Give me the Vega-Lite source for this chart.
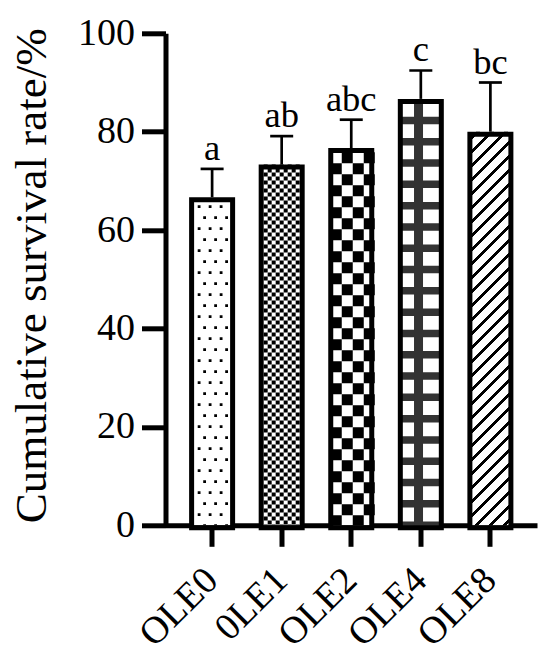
{
  "$schema": "https://vega.github.io/schema/vega-lite/v6.json",
  "width": 371.5,
  "height": 492,
  "autosize": "none",
  "padding": {"left": 165.5, "top": 33.3, "right": 13, "bottom": 140.7},
  "background": "white",
  "config": {"view": {"stroke": null}, "font": "Liberation Serif"},
  "data": {
    "values": [
      {"group": "OLE0", "value": 66.67, "upper": 72.44, "letter": "a"},
      {"group": "0LE1", "value": 73.33, "upper": 79.1, "letter": "ab"},
      {"group": "OLE2", "value": 76.67, "upper": 82.44, "letter": "abc"},
      {"group": "OLE4", "value": 86.67, "upper": 92.44, "letter": "c"},
      {"group": "OLE8", "value": 80, "upper": 90, "letter": "bc"}
    ]
  },
  "encoding": {
    "x": {
      "field": "group", "type": "nominal", "sort": null,
      "scale": {"paddingInner": 0.4, "paddingOuter": 0.37},
      "axis": {
        "title": null, "labelAngle": -45, "labelFontSize": 38, "labelColor": "black",
        "labelAlign": "right", "labelBaseline": "middle",
        "labelPadding": 28, "tickSize": 21, "tickWidth": 5, "tickColor": "black",
        "domainWidth": 5, "domainColor": "black"
      }
    },
    "y": {
      "field": "value", "type": "quantitative", "title": "Cumulative survival rate/%",
      "scale": {"domain": [0, 100], "nice": false},
      "axis": {
        "values": [0, 20, 40, 60, 80, 100], "grid": false,
        "tickSize": 24, "tickWidth": 5, "tickColor": "black",
        "domainWidth": 5, "domainColor": "black",
        "labelFontSize": 38, "labelColor": "black", "labelPadding": 7,
        "titleFontSize": 45, "titleFontWeight": "normal", "titleColor": "black",
        "titleX": -120, "titleY": 242, "titleBaseline": "alphabetic"
      }
    }
  },
  "layer": [
    {"mark": {"type": "bar", "width": 41, "fill": "white", "opacity": 1}},
    {
      "transform": [{"filter": "datum.group == 'OLE8'"}],
      "mark": {
        "type": "bar", "width": 41, "opacity": 1,
        "fill": {
          "gradient": "linear", "x1": 0, "y1": 0, "x2": 0.11378, "y2": 1.09233,
          "stops": [
            {"offset": 0, "color": "#fff"},
            {"offset": 0.01381, "color": "#fff"}, {"offset": 0.01381, "color": "#000"}, {"offset": 0.02301, "color": "#000"}, {"offset": 0.02301, "color": "#fff"},
            {"offset": 0.04602, "color": "#fff"}, {"offset": 0.04602, "color": "#000"}, {"offset": 0.05522, "color": "#000"}, {"offset": 0.05522, "color": "#fff"},
            {"offset": 0.07823, "color": "#fff"}, {"offset": 0.07823, "color": "#000"}, {"offset": 0.08744, "color": "#000"}, {"offset": 0.08744, "color": "#fff"},
            {"offset": 0.11045, "color": "#fff"}, {"offset": 0.11045, "color": "#000"}, {"offset": 0.11965, "color": "#000"}, {"offset": 0.11965, "color": "#fff"},
            {"offset": 0.14266, "color": "#fff"}, {"offset": 0.14266, "color": "#000"}, {"offset": 0.15186, "color": "#000"}, {"offset": 0.15186, "color": "#fff"},
            {"offset": 0.17487, "color": "#fff"}, {"offset": 0.17487, "color": "#000"}, {"offset": 0.18408, "color": "#000"}, {"offset": 0.18408, "color": "#fff"},
            {"offset": 0.20709, "color": "#fff"}, {"offset": 0.20709, "color": "#000"}, {"offset": 0.21629, "color": "#000"}, {"offset": 0.21629, "color": "#fff"},
            {"offset": 0.2393, "color": "#fff"}, {"offset": 0.2393, "color": "#000"}, {"offset": 0.2485, "color": "#000"}, {"offset": 0.2485, "color": "#fff"},
            {"offset": 0.27151, "color": "#fff"}, {"offset": 0.27151, "color": "#000"}, {"offset": 0.28072, "color": "#000"}, {"offset": 0.28072, "color": "#fff"},
            {"offset": 0.30373, "color": "#fff"}, {"offset": 0.30373, "color": "#000"}, {"offset": 0.31293, "color": "#000"}, {"offset": 0.31293, "color": "#fff"},
            {"offset": 0.33594, "color": "#fff"}, {"offset": 0.33594, "color": "#000"}, {"offset": 0.34514, "color": "#000"}, {"offset": 0.34514, "color": "#fff"},
            {"offset": 0.36815, "color": "#fff"}, {"offset": 0.36815, "color": "#000"}, {"offset": 0.37736, "color": "#000"}, {"offset": 0.37736, "color": "#fff"},
            {"offset": 0.40037, "color": "#fff"}, {"offset": 0.40037, "color": "#000"}, {"offset": 0.40957, "color": "#000"}, {"offset": 0.40957, "color": "#fff"},
            {"offset": 0.43258, "color": "#fff"}, {"offset": 0.43258, "color": "#000"}, {"offset": 0.44179, "color": "#000"}, {"offset": 0.44179, "color": "#fff"},
            {"offset": 0.4648, "color": "#fff"}, {"offset": 0.4648, "color": "#000"}, {"offset": 0.474, "color": "#000"}, {"offset": 0.474, "color": "#fff"},
            {"offset": 0.49701, "color": "#fff"}, {"offset": 0.49701, "color": "#000"}, {"offset": 0.50621, "color": "#000"}, {"offset": 0.50621, "color": "#fff"},
            {"offset": 0.52922, "color": "#fff"}, {"offset": 0.52922, "color": "#000"}, {"offset": 0.53843, "color": "#000"}, {"offset": 0.53843, "color": "#fff"},
            {"offset": 0.56144, "color": "#fff"}, {"offset": 0.56144, "color": "#000"}, {"offset": 0.57064, "color": "#000"}, {"offset": 0.57064, "color": "#fff"},
            {"offset": 0.59365, "color": "#fff"}, {"offset": 0.59365, "color": "#000"}, {"offset": 0.60285, "color": "#000"}, {"offset": 0.60285, "color": "#fff"},
            {"offset": 0.62586, "color": "#fff"}, {"offset": 0.62586, "color": "#000"}, {"offset": 0.63507, "color": "#000"}, {"offset": 0.63507, "color": "#fff"},
            {"offset": 0.65808, "color": "#fff"}, {"offset": 0.65808, "color": "#000"}, {"offset": 0.66728, "color": "#000"}, {"offset": 0.66728, "color": "#fff"},
            {"offset": 0.69029, "color": "#fff"}, {"offset": 0.69029, "color": "#000"}, {"offset": 0.69949, "color": "#000"}, {"offset": 0.69949, "color": "#fff"},
            {"offset": 0.7225, "color": "#fff"}, {"offset": 0.7225, "color": "#000"}, {"offset": 0.73171, "color": "#000"}, {"offset": 0.73171, "color": "#fff"},
            {"offset": 0.75472, "color": "#fff"}, {"offset": 0.75472, "color": "#000"}, {"offset": 0.76392, "color": "#000"}, {"offset": 0.76392, "color": "#fff"},
            {"offset": 0.78693, "color": "#fff"}, {"offset": 0.78693, "color": "#000"}, {"offset": 0.79613, "color": "#000"}, {"offset": 0.79613, "color": "#fff"},
            {"offset": 0.81914, "color": "#fff"}, {"offset": 0.81914, "color": "#000"}, {"offset": 0.82835, "color": "#000"}, {"offset": 0.82835, "color": "#fff"},
            {"offset": 0.85136, "color": "#fff"}, {"offset": 0.85136, "color": "#000"}, {"offset": 0.86056, "color": "#000"}, {"offset": 0.86056, "color": "#fff"},
            {"offset": 0.88357, "color": "#fff"}, {"offset": 0.88357, "color": "#000"}, {"offset": 0.89277, "color": "#000"}, {"offset": 0.89277, "color": "#fff"},
            {"offset": 0.91578, "color": "#fff"}, {"offset": 0.91578, "color": "#000"}, {"offset": 0.92499, "color": "#000"}, {"offset": 0.92499, "color": "#fff"},
            {"offset": 0.948, "color": "#fff"}, {"offset": 0.948, "color": "#000"}, {"offset": 0.9572, "color": "#000"}, {"offset": 0.9572, "color": "#fff"},
            {"offset": 0.98021, "color": "#fff"}, {"offset": 0.98021, "color": "#000"}, {"offset": 0.98941, "color": "#000"}, {"offset": 0.98941, "color": "#fff"},
            {"offset": 1, "color": "#fff"}
          ]
        }
      }
    },
    {
      "transform": [{"filter": "datum.group == 'OLE0'"}],
      "encoding": {"y2": {"datum": 0}},
      "layer": [
        {"mark": {"type": "rule", "stroke": "black", "strokeWidth": 2.8, "strokeDash": [2.8, 19.2], "strokeDashOffset": 14, "xOffset": -13}},
        {"mark": {"type": "rule", "stroke": "black", "strokeWidth": 2.8, "strokeDash": [2.8, 19.2], "strokeDashOffset": 14, "xOffset": -2}},
        {"mark": {"type": "rule", "stroke": "black", "strokeWidth": 2.8, "strokeDash": [2.8, 19.2], "strokeDashOffset": 14, "xOffset": 9}},
        {"mark": {"type": "rule", "stroke": "black", "strokeWidth": 2.8, "strokeDash": [2.8, 19.2], "strokeDashOffset": 3, "xOffset": -7.5}},
        {"mark": {"type": "rule", "stroke": "black", "strokeWidth": 2.8, "strokeDash": [2.8, 19.2], "strokeDashOffset": 3, "xOffset": 3.5}},
        {"mark": {"type": "rule", "stroke": "black", "strokeWidth": 2.8, "strokeDash": [2.8, 19.2], "strokeDashOffset": 3, "xOffset": 14.5}}
      ]
    },
    {
      "transform": [{"filter": "datum.group == '0LE1'"}],
      "encoding": {"y2": {"datum": 0}},
      "layer": [
        {"mark": {"type": "rule", "stroke": "black", "strokeWidth": 4, "strokeDash": [4, 4], "strokeDashOffset": 0, "xOffset": -16}},
        {"mark": {"type": "rule", "stroke": "black", "strokeWidth": 4, "strokeDash": [4, 4], "strokeDashOffset": 4, "xOffset": -12}},
        {"mark": {"type": "rule", "stroke": "black", "strokeWidth": 4, "strokeDash": [4, 4], "strokeDashOffset": 0, "xOffset": -8}},
        {"mark": {"type": "rule", "stroke": "black", "strokeWidth": 4, "strokeDash": [4, 4], "strokeDashOffset": 4, "xOffset": -4}},
        {"mark": {"type": "rule", "stroke": "black", "strokeWidth": 4, "strokeDash": [4, 4], "strokeDashOffset": 0, "xOffset": 0}},
        {"mark": {"type": "rule", "stroke": "black", "strokeWidth": 4, "strokeDash": [4, 4], "strokeDashOffset": 4, "xOffset": 4}},
        {"mark": {"type": "rule", "stroke": "black", "strokeWidth": 4, "strokeDash": [4, 4], "strokeDashOffset": 0, "xOffset": 8}},
        {"mark": {"type": "rule", "stroke": "black", "strokeWidth": 4, "strokeDash": [4, 4], "strokeDashOffset": 4, "xOffset": 12}},
        {"mark": {"type": "rule", "stroke": "black", "strokeWidth": 4, "strokeDash": [4, 4], "strokeDashOffset": 0, "xOffset": 16}}
      ]
    },
    {
      "transform": [{"filter": "datum.group == 'OLE2'"}],
      "encoding": {"y2": {"datum": 0}},
      "layer": [
        {"mark": {"type": "rule", "stroke": "black", "strokeWidth": 11, "strokeDash": [11, 11], "strokeDashOffset": 6.8, "xOffset": -15}},
        {"mark": {"type": "rule", "stroke": "black", "strokeWidth": 11, "strokeDash": [11, 11], "strokeDashOffset": 17.8, "xOffset": -4}},
        {"mark": {"type": "rule", "stroke": "black", "strokeWidth": 11, "strokeDash": [11, 11], "strokeDashOffset": 6.8, "xOffset": 7}},
        {"mark": {"type": "rule", "stroke": "black", "strokeWidth": 11, "strokeDash": [11, 11], "strokeDashOffset": 17.8, "xOffset": 18}}
      ]
    },
    {
      "transform": [{"filter": "datum.group == 'OLE4'"}],
      "encoding": {"y2": {"datum": 0}},
      "layer": [
        {"mark": {"type": "rule", "stroke": "#333", "strokeWidth": 41, "strokeDash": [7.5, 13.8], "strokeDashOffset": 3.5}},
        {"mark": {"type": "rule", "stroke": "#333", "strokeWidth": 9, "xOffset": -2.3}}
      ]
    },
    {"mark": {"type": "bar", "width": 41, "fill": "transparent", "stroke": "black", "strokeWidth": 5, "opacity": 1, "yOffset": 2.5}},
    {
      "mark": {"type": "rule", "stroke": "black", "strokeWidth": 2.7},
      "encoding": {"y2": {"field": "upper"}}
    },
    {
      "mark": {"type": "tick", "orient": "horizontal", "size": 23, "thickness": 2.7, "color": "black", "opacity": 1},
      "encoding": {"y": {"field": "upper", "type": "quantitative", "title": "Cumulative survival rate/%"}}
    },
    {
      "mark": {"type": "text", "fontSize": 36.5, "baseline": "alphabetic", "dy": -9, "color": "black"},
      "encoding": {
        "y": {"field": "upper", "type": "quantitative", "title": "Cumulative survival rate/%"},
        "text": {"field": "letter"}
      }
    }
  ]
}
